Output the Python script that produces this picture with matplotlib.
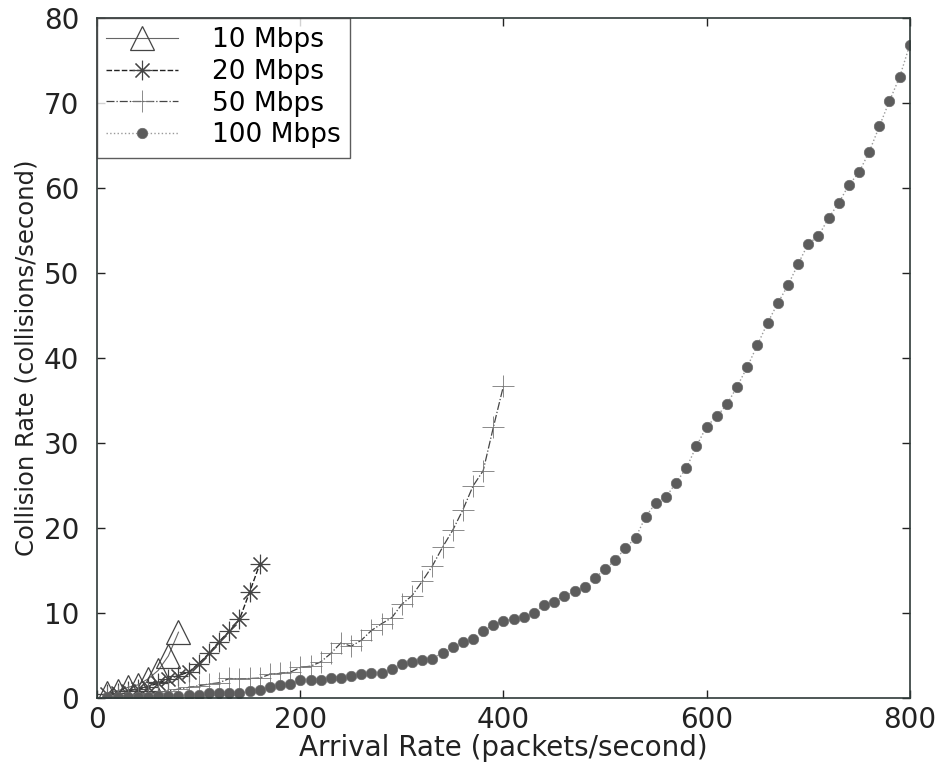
import matplotlib
matplotlib.use("Agg")
import matplotlib.pyplot as plt

plt.rcParams['font.family'] = ['DejaVu Sans']

# Arrival rate (packets/second) for each link speed
x_10 = [10, 20, 30, 40, 50, 60, 70, 80]
x_20 = [10, 20, 30, 40, 50, 60, 70, 80, 90, 100, 110, 120, 130, 140, 150, 160]
x_50 = list(range(10, 401, 10))
x_100 = list(range(10, 801, 10))

# Collision rate (collisions/second)
y_10 = [0.5, 0.8, 1.2, 1.5, 2.2, 3.2, 4.9, 7.7]
y_20 = [0.4, 0.6, 0.8, 1.0, 1.3, 1.7, 2.2, 2.6, 3.0, 4.0, 5.2, 6.6, 7.8, 9.2, 12.4, 15.7]
y_50 = [0.1, 0.2, 0.3, 0.4, 0.5, 0.6, 0.8, 1.0, 1.2, 1.4,
        1.6, 1.75, 2.25, 2.2, 2.25, 2.3, 2.75, 2.85, 3.0, 3.55,
        3.7, 4.2, 5.2, 6.45, 6.05, 6.75, 7.9, 8.7, 9.4, 11.0,
        12.0, 13.7, 15.5, 17.7, 19.7, 22.1, 24.9, 26.7, 31.8, 36.7]
y_100 = [0.02, 0.05, 0.08, 0.1, 0.12, 0.15, 0.18, 0.2, 0.25, 0.3,
         0.5, 0.55, 0.5, 0.5, 0.75, 0.95, 1.25, 1.45, 1.65, 2.1,
         2.05, 2.05, 2.3, 2.3, 2.55, 2.75, 2.9, 2.9, 3.4, 3.95,
         4.2, 4.4, 4.6, 5.3, 6.0, 6.5, 6.9, 7.8, 8.6, 9.0,
         9.25, 9.5, 10.0, 10.9, 11.3, 12.0, 12.5, 13.0, 14.1, 15.1,
         16.2, 17.6, 18.8, 21.3, 22.9, 23.6, 25.3, 27.0, 29.6, 31.9,
         33.1, 34.5, 36.6, 38.9, 41.5, 44.1, 46.4, 48.5, 51.0, 53.4,
         54.3, 56.4, 58.2, 60.3, 61.8, 64.2, 67.2, 70.2, 73.0, 76.8]

labels = ['10 Mbps', '20 Mbps', '50 Mbps', '100 Mbps']

fig = plt.figure(figsize=(9.35, 7.7), dpi=100)
ax = fig.add_axes([0.104, 0.094, 0.869, 0.883])

ax.plot(x_10, y_10, '-', color='#666666', lw=0.8, marker='^', ms=17,
        mfc='none', mec='#444444', mew=0.9, label=labels[0])
# 8-armed asterisk markers
ax.plot(x_20, y_20, '--', color='#222222', lw=1.0, dashes=(4, 1.5), marker=(8, 2, 0), ms=14,
        mfc='#333333', mec='#444444', mew=0.8, label=labels[1])
ax.plot(x_50, y_50, '-.', color='#444444', lw=0.9, marker='+', ms=16,
        mec='#777777', mew=0.6, label=labels[2])
ax.plot(x_100, y_100, ':', color='#999999', lw=1.0, marker='o', ms=7.5,
        mfc='#5c5c5c', mec='#6a6a6a', mew=0.5, label=labels[3])

ax.set_xlim(0, 800)
ax.set_ylim(0, 80)
ax.set_xticks([0, 200, 400, 600, 800])
ax.set_yticks([0, 10, 20, 30, 40, 50, 60, 70, 80])
ax.tick_params(direction='in', top=True, right=True, length=6, width=1,
               labelsize=20, colors='#222222')
ax.tick_params(axis='x', pad=6)
ax.tick_params(axis='y', pad=13)
for s in ax.spines.values():
    s.set_color('#2f3a38')
    s.set_linewidth(1.2)

ax.set_xlabel('Arrival Rate (packets/second)', fontsize=20, color='#222222', labelpad=0)
ax.set_ylabel('Collision Rate (collisions/second)', fontsize=17.5, color='#222222', labelpad=4)

leg = ax.legend(loc='upper left', fontsize=19, frameon=True, fancybox=False,
                borderaxespad=0, handlelength=2.7, handletextpad=1.3,
                labelspacing=0.22, borderpad=0.35)
leg.get_frame().set_edgecolor('#333333')
leg.get_frame().set_linewidth(1.0)

fig.savefig('out.png', dpi=100)
